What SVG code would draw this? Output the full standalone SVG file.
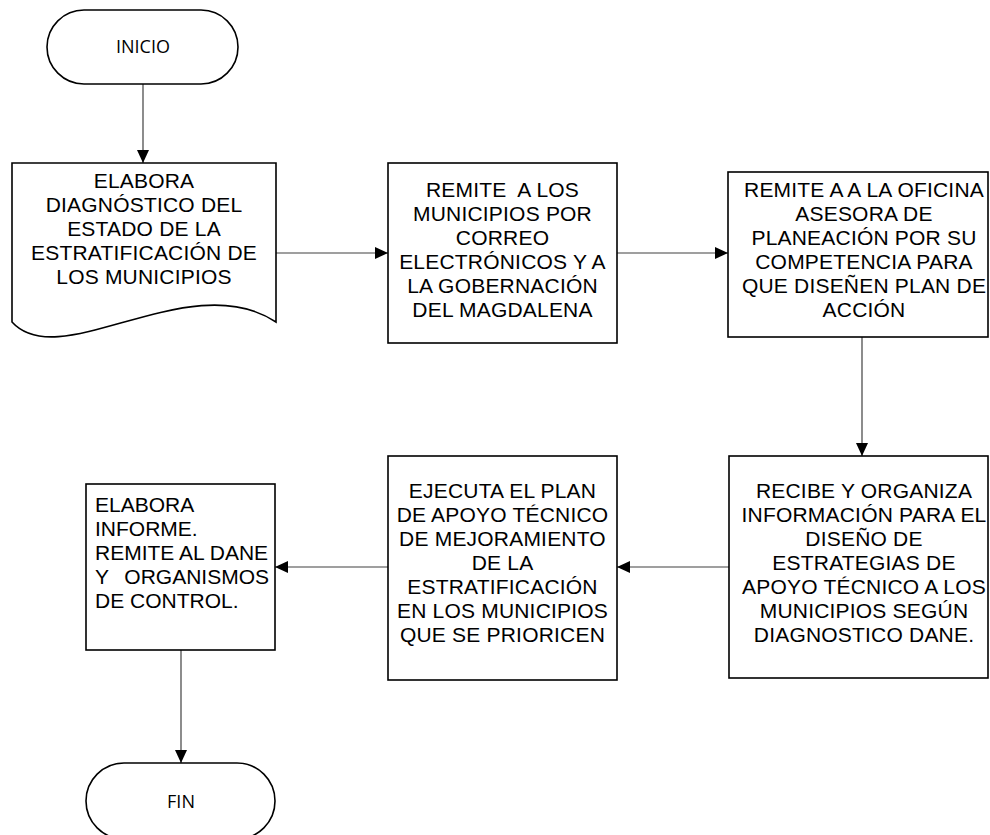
<svg xmlns="http://www.w3.org/2000/svg" width="990" height="835" viewBox="0 0 990 835">
<style>
.shape{fill:#fff;stroke:#000;stroke-width:1.6}
.conn{fill:none;stroke:#404040;stroke-width:1.2}
.t{font-family:"Liberation Sans",Arial,sans-serif;font-size:21px;letter-spacing:0.2px;fill:#000;text-anchor:middle}
.tl{font-family:"Liberation Sans",Arial,sans-serif;font-size:21px;fill:#000}
.term{font-family:"Open Sans","Noto Sans",sans-serif;font-size:18px;fill:#000;text-anchor:middle}
</style>
<defs>
<marker id="arr" markerUnits="userSpaceOnUse" markerWidth="14" markerHeight="12" refX="13" refY="6" orient="auto">
<path d="M0,0 L13,6 L0,12 Z" fill="#000"/>
</marker>
</defs>
<rect width="990" height="835" fill="#fff"/>
<g id="connectors">
<line class="conn" x1="143" y1="84" x2="143" y2="163" marker-end="url(#arr)"/>
<line class="conn" x1="276" y1="253" x2="388" y2="253" marker-end="url(#arr)"/>
<line class="conn" x1="617" y1="253" x2="728" y2="253" marker-end="url(#arr)"/>
<line class="conn" x1="862" y1="337" x2="862" y2="456" marker-end="url(#arr)"/>
<line class="conn" x1="729" y1="567" x2="617" y2="567" marker-end="url(#arr)"/>
<line class="conn" x1="388" y1="567" x2="275" y2="567" marker-end="url(#arr)"/>
<line class="conn" x1="181" y1="650" x2="181" y2="763" marker-end="url(#arr)"/>
</g>
<g id="inicio">
<rect class="shape" x="47" y="10" width="191" height="74" rx="37" ry="37"/>
<text class="term" x="143" y="53">INICIO</text>
</g>
<g id="diagnostico">
<path class="shape" d="M12,163 H276 V322 C190,265 60,375 12,322 Z"/>
<text class="t" x="144" y="188">ELABORA</text>
<text class="t" x="144" y="212">DIAGNÓSTICO DEL</text>
<text class="t" x="144" y="236">ESTADO DE LA</text>
<text class="t" x="144" y="260">ESTRATIFICACIÓN DE</text>
<text class="t" x="144" y="284">LOS MUNICIPIOS</text>
</g>
<g id="remite-municipios">
<rect class="shape" x="388" y="163" width="229" height="180"/>
<text class="t" x="502.5" y="197" xml:space="preserve">REMITE  A LOS</text>
<text class="t" x="502.5" y="221">MUNICIPIOS POR</text>
<text class="t" x="502.5" y="245">CORREO</text>
<text class="t" x="502.5" y="269">ELECTRÓNICOS Y A</text>
<text class="t" x="502.5" y="293">LA GOBERNACIÓN</text>
<text class="t" x="502.5" y="317">DEL MAGDALENA</text>
</g>
<g id="remite-oficina">
<rect class="shape" x="728" y="172" width="260" height="165"/>
<text class="t" x="864" y="197">REMITE A A LA OFICINA</text>
<text class="t" x="864" y="221">ASESORA DE</text>
<text class="t" x="864" y="245">PLANEACIÓN POR SU</text>
<text class="t" x="864" y="269">COMPETENCIA PARA</text>
<text class="t" x="864" y="293">QUE DISEÑEN PLAN DE</text>
<text class="t" x="864" y="317">ACCIÓN</text>
</g>
<g id="recibe">
<rect class="shape" x="729" y="456" width="259" height="222"/>
<text class="t" x="864" y="498">RECIBE Y ORGANIZA</text>
<text class="t" x="864" y="522">INFORMACIÓN PARA EL</text>
<text class="t" x="864" y="546">DISEÑO DE</text>
<text class="t" x="864" y="570">ESTRATEGIAS DE</text>
<text class="t" x="864" y="594">APOYO TÉCNICO A LOS</text>
<text class="t" x="864" y="618">MUNICIPIOS SEGÚN</text>
<text class="t" x="864" y="642">DIAGNOSTICO DANE.</text>
</g>
<g id="ejecuta">
<rect class="shape" x="388" y="456" width="229" height="224"/>
<text class="t" x="502.5" y="498">EJECUTA EL PLAN</text>
<text class="t" x="502.5" y="522">DE APOYO TÉCNICO</text>
<text class="t" x="502.5" y="546">DE MEJORAMIENTO</text>
<text class="t" x="502.5" y="570">DE LA</text>
<text class="t" x="502.5" y="594">ESTRATIFICACIÓN</text>
<text class="t" x="502.5" y="618">EN LOS MUNICIPIOS</text>
<text class="t" x="502.5" y="642">QUE SE PRIORICEN</text>
</g>
<g id="informe">
<rect class="shape" x="86" y="484" width="189" height="166"/>
<text class="tl" x="95" y="512">ELABORA</text>
<text class="tl" x="95" y="536">INFORME.</text>
<text class="tl" x="95" y="560">REMITE AL DANE</text>
<text class="tl" x="95" y="584">Y</text>
<text class="tl" x="269" y="584" text-anchor="end">ORGANISMOS</text>
<text class="tl" x="95" y="608">DE CONTROL.</text>
</g>
<g id="fin">
<rect class="shape" x="86" y="763" width="189" height="76" rx="38" ry="38"/>
<text class="term" x="181" y="808">FIN</text>
</g>
</svg>
